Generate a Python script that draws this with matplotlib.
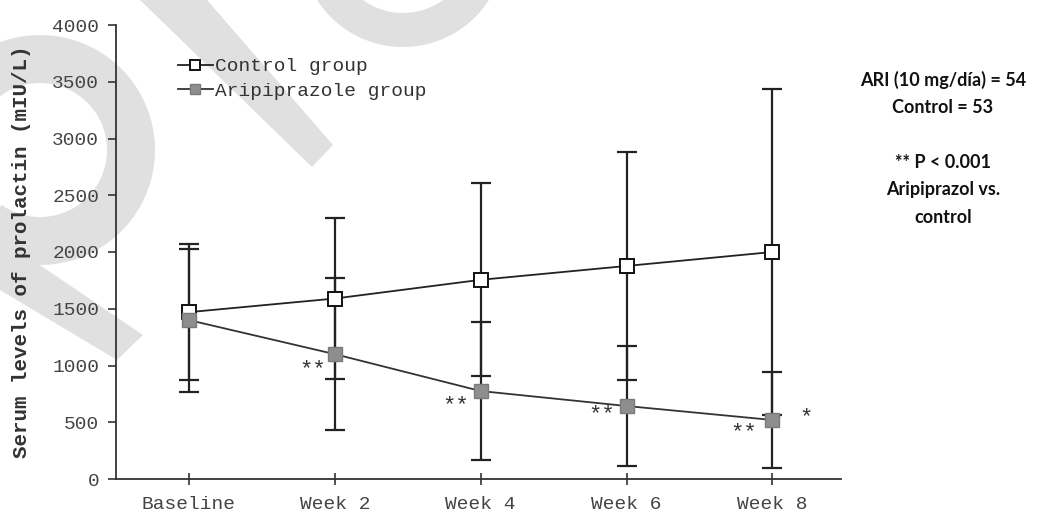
import numpy as np
import matplotlib
matplotlib.use('Agg')
import matplotlib.pyplot as plt
from matplotlib.patches import Polygon

# data
weeks = ['Baseline', 'Week 2', 'Week 4', 'Week 6', 'Week 8']
control_mean = [1470, 1590, 1755, 1877, 2000]
control_sd = [600, 710, 850, 1005, 1436]
ari_mean = [1400, 1100, 775, 643, 520]
ari_sd = [630, 670, 610, 528, 420]
sig_labels = ['**', '**', '**', '**', '*']
sig_x = [0.85, 1.83, 2.83, 3.80, 4.23]
sig_y = [960, 650, 565, 405, 540]
note_lines = ['ARI (10 mg/día) = 54', 'Control = 53', '', '** P < 0.001', 'Aripiprazol vs.', 'control']

W, H = 1038, 518
fig = plt.figure(figsize=(W/100, H/100), dpi=100)
mono = 'Liberation Mono'

#light grey watermark behind the chart (pixel coords -> figure fraction)
def px(x, y):
    return (x/W, 1 - y/H)
wm = '#e0e0e0'

def ring(cx, cy, ro, ri, a0, a1):
    t = np.linspace(a0, a1, 80)*np.pi/180
    outer = [px(cx + ro*np.cos(a), cy - ro*np.sin(a)) for a in t]
    inner = [px(cx + ri*np.cos(a), cy - ri*np.sin(a)) for a in t[::-1]]
    fig.patches.append(Polygon(outer + inner, closed=True, transform=fig.transFigure,
                               color=wm, lw=0, zorder=0))

ring(40, 150, 115, 67, -125, 150)
ring(403, -55, 102, 68, 180, 360)
fig.patches.append(Polygon([px(140, 0), px(207, 0), px(333, 145), px(312, 167)], closed=True,
                           transform=fig.transFigure, color=wm, lw=0, zorder=0))
fig.patches.append(Polygon([px(0, 238), px(0, 290), px(117, 360), px(143, 335)], closed=True,
                           transform=fig.transFigure, color=wm, lw=0, zorder=0))

ax = fig.add_axes([116/W, 1 - 479/H, (841-116)/W, (479-25)/H])
ax.set_zorder(1)
ax.patch.set_alpha(0)
x = np.arange(len(weeks))

ax.errorbar(x, control_mean, yerr=control_sd, fmt='none', ecolor='#222222', elinewidth=1.6,
            capsize=7, capthick=1.6, zorder=2)
ax.errorbar(x, ari_mean, yerr=ari_sd, fmt='none', ecolor='#222222', elinewidth=1.6,
            capsize=7, capthick=1.6, zorder=2)
ax.plot(x, control_mean, '-s', color='#222222', lw=1.3, ms=9.5, mfc='white', mec='#111111',
        mew=1.4, label='Control group', zorder=3)
ax.plot(x, ari_mean, '-s', color='#333333', lw=1.3, ms=9.5, mfc='#8e8e8e', mec='#7a7a7a',
        label='Aripiprazole group', zorder=4)

for lab, sx, sy in zip(sig_labels, sig_x, sig_y):
    ax.text(sx, sy, lab, ha='center', va='center', fontsize=16, family=mono, color='#333333')

ax.set_xlim(-0.5, 4.47)
ax.set_ylim(0, 4000)
ax.set_yticks(np.arange(0, 4001, 500))
ax.set_xticks(x)
ax.set_xticklabels(weeks)
for s in ['top', 'right']:
    ax.spines[s].set_visible(False)
for s in ['left', 'bottom']:
    ax.spines[s].set_linewidth(1.3)
    ax.spines[s].set_color('#333333')
ax.tick_params(axis='y', direction='out', length=6, width=1.2, labelsize=14, pad=6, colors='#333333')
ax.tick_params(axis='x', direction='inout', length=8, width=1.2, labelsize=14, pad=8, colors='#333333')
for lbl in ax.get_xticklabels() + ax.get_yticklabels():
    lbl.set_family(mono)
    lbl.set_color('#444444')

ax.text(-0.13, 0.5, 'Serum levels of prolactin (mIU/L)', rotation=90, ha='center', va='center',
        transform=ax.transAxes, fontsize=15, family=mono, fontweight='bold', color='#333333')

leg = ax.legend(loc='upper left', bbox_to_anchor=((170-116)/(841-116), 1 - (50-25)/454),
                frameon=False, prop={'family': mono, 'size': 14}, handlelength=1.8, handletextpad=0.1,
                labelspacing=0.35, borderaxespad=0, markerscale=0.75)
for txt in leg.get_texts():
    txt.set_color('#333333')

for i, line in enumerate(note_lines):
    fig.text(943/W, 1 - (80 + 27.5*i)/H, line, ha='center', va='center', fontsize=13,
             family='Lato', fontweight='bold', color='#111111', zorder=3)

fig.savefig('out.png', dpi=100)
